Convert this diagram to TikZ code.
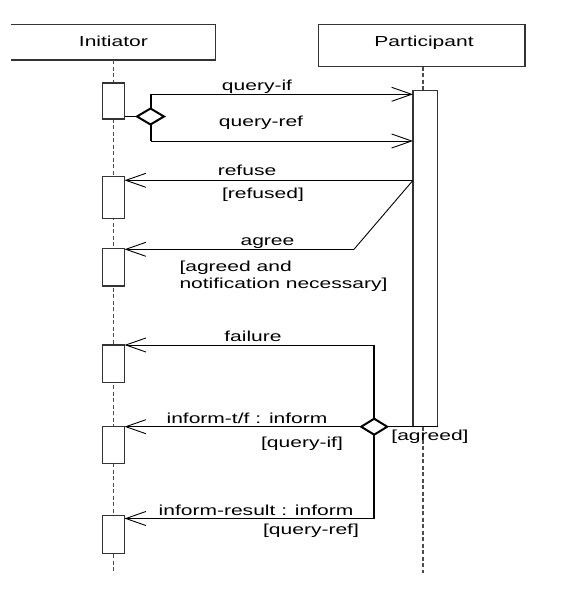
\documentclass[tikz,border=0pt]{standalone}
\usepackage{fontspec}
\setmainfont[FakeStretch=1.45]{Liberation Sans}
\usetikzlibrary{arrows.meta,calc}

\begin{document}
\begin{tikzpicture}[x=1pt,y=-1pt,
  lbl/.style={font=\fontsize{14.5}{16.6}\selectfont, inner sep=0pt, anchor=base},
  head/.style={inner sep=0pt, outer sep=0pt},
  boxline/.style={draw=black!80, line width=1.1pt},
  act/.style={draw=black!80, line width=1.1pt, fill=white, inner sep=0pt, outer sep=0pt, minimum width=22pt},
  life/.style={draw=black!70, line width=1.5pt, dash pattern=on 4pt off 2.5pt},
  msg/.style={draw=black, line width=0.9pt, -{Straight Barb[length=20pt,width=14pt]}},
  wire/.style={draw=black, line width=0.9pt},
  branch/.style={draw=black, line width=2pt},
  choice/.style={draw=black, line width=2pt, fill=white}]

\useasboundingbox (0,0) rectangle (565,589);

% lifeline heads
\node[head, minimum width=204.7pt, minimum height=35.7pt] (ini) at (113.35,42.15) {};
\draw[boxline] (ini.north west) -- (ini.north east) -- (ini.south east) -- (ini.south west);
\node[head, boxline, minimum width=206.7pt, minimum height=42.4pt] (par) at (421.65,45.5) {};
\node[lbl] (iniT) at (113.4,46.5) {Initiator};
\node[lbl] (parT) at (424,46.7) {Participant};

% lifelines
\coordinate (iEnd) at (113.3,573);
\coordinate (pEnd) at (423,573);
\draw[life] (ini.south -| iEnd) -- (iEnd);
\draw[life] (par.south -| pEnd) -- (423,90.7);
\draw[life] (423,426.7) -- (pEnd);

% activation bars
\node[act, minimum height=36pt]   (a1) at (113.5,101) {};
\node[act, minimum height=41.6pt] (a2) at (113.5,197.5) {};
\node[act, minimum height=37.7pt] (a3) at (113.5,267.15) {};
\node[act, minimum height=37.3pt] (a4) at (113.5,363.65) {};
\node[act, minimum height=36.6pt] (a5) at (113.5,445) {};
\node[act, minimum height=37.6pt] (a6) at (113.5,534.5) {};
\node[act, minimum width=24.5pt, minimum height=336pt] (pa) at (425.25,258.7) {};

% request choice
\coordinate (d1) at (150.5,116.5);
\draw[wire] (a1.east |- d1) -- ($(d1)+(-13.5,0)$);
\coordinate (qIf) at (150.5,94.3);
\coordinate (qRef) at (150.5,141);
\draw[branch] ($(d1)+(0,-8)$) -- (qIf);
\draw[branch] ($(d1)+(0,8)$) -- (qRef);
\draw[choice] ($(d1)+(-13.5,0)$) -- ($(d1)+(0,-8)$) -- ($(d1)+(13.5,0)$) -- ($(d1)+(0,8)$) -- cycle;
\draw[msg] (qIf) -- (pa.west |- qIf);
\draw[msg] (qRef) -- (pa.west |- qRef);
\node[lbl] (lIf) at (257,90.7) {query-if};
\node[lbl] (lRef) at (261,126) {query-ref};

% refuse / agree
\coordinate (rf) at (413,180.3);
\coordinate (ag) at (354,249.3);
\draw[msg] (rf) -- (a2.east |- rf);
\draw[wire] (rf) -- (ag);
\draw[msg] (ag) -- (a3.east |- ag);
\node[lbl] (lRefuse) at (247,175.7) {refuse};
\node[lbl] (lRefused) at (263,198.5) {[refused]};
\node[lbl] (lAgree) at (267.5,245) {agree};
% base anchor of a two-line node sits on its last line
\node[lbl, anchor=base west, align=left] (lAgreed) at (179.3,288.3) {[agreed and\\notification necessary]};

% result choice
\coordinate (fl) at (374.2,345);
\coordinate (d2) at (374.2,426.7);
\coordinate (ir) at (374.2,518.5);
\draw[branch] (fl) -- ($(d2)+(0,-8)$);
\draw[branch] ($(d2)+(0,8)$) -- (ir);
\draw[msg] (fl) -- (a4.east |- fl);
\draw[msg] ($(d2)+(-13,0)$) -- (a5.east |- d2);
\draw[msg] (ir) -- (a6.east |- ir);
\draw[wire] ($(d2)+(13,0)$) -- (pa.south east);
\draw[choice] ($(d2)+(-13,0)$) -- ($(d2)+(0,-8)$) -- ($(d2)+(13,0)$) -- ($(d2)+(0,8)$) -- cycle;
\node[lbl] (lFail) at (253,341.7) {failure};
\node[lbl] (lTf) at (247,423.3) {inform-t/f : inform};
\node[lbl] (lQif) at (302,447.5) {[query-if]};
\node[lbl] (lAgr) at (430,440.3) {[agreed]};
\node[lbl] (lRes) at (256,515) {inform-result : inform};
\node[lbl] (lQref) at (311,534) {[query-ref]};
\end{tikzpicture}
\end{document}
